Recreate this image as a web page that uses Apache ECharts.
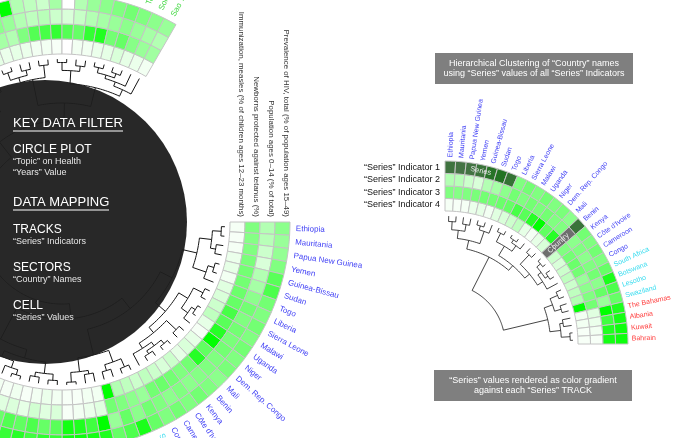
<!DOCTYPE html>
<html><head><meta charset="utf-8">
<script src="https://cdn.jsdelivr.net/npm/echarts@6/dist/echarts.min.js"></script>
<style>html,body{margin:0;padding:0;background:#fff}#c{width:700px;height:438px}</style>
</head><body><div id="c"></div>
<script>
const countries = ["Ethiopia","Mauritania","Papua New Guinea","Yemen","Guinea-Bissau","Sudan","Togo","Liberia","Sierra Leone","Malawi","Uganda","Niger","Dem. Rep. Congo","Mali","Benin","Kenya","Côte d'Ivoire","Cameroon","Congo","South Africa","Botswana","Lesotho","Swaziland","The Bahamas","Albania","Kuwait","Bahrain",
"Qatar","Oman","United Arab Emirates","Saudi Arabia","Malta","Cyprus","Singapore","Brunei Darussalam","Japan","Korea, Rep.","Italy","Spain","Greece","Portugal","Germany","Austria","Switzerland","Belgium","Netherlands","Denmark","Sweden","Norway","Finland","France","United Kingdom","Ireland","Iceland","Canada","United States","Australia","New Zealand","Chile","Uruguay","Argentina","Brazil","Mexico","Colombia","Peru","Ecuador","Panama","Costa Rica","Jamaica","Thailand","Malaysia","Viet Nam","Indonesia","Philippines",
"India","Nepal","Bangladesh","Pakistan","Cambodia","Lao PDR","Myanmar","Afghanistan","Haiti","Bolivia","Guatemala","Honduras","Nicaragua","Tajikistan","Solomon Islands","Sao Tome and Principe"];
const countryGroup = [0,0,0,0,0,0,0,0,0,0,0,0,0,0,0,0,0,0,0,1,1,1,1,2,2,2,2,
3,3,3,3,3,3,3,3,3,3,3,3,3,3,3,3,3,3,3,3,3,3,3,3,3,3,3,3,3,3,3,3,3,3,3,3,3,3,3,3,3,3,3,3,3,3,3,3,
4,4,4,4,4,4,4,4,4,4,4,4,4,4,4,4];
const trackNames = ["Immunization, measles (% of children ages 12–23 months)","Newborns protected against tetanus (%)","Population ages 0–14 (% of total)","Prevalence of HIV, total (% of population ages 15–49)"];
const indicatorLabels = ["“Series” Indicator 1","“Series” Indicator 2","“Series” Indicator 3","“Series” Indicator 4"];
// colour level (0 = white, 100 = full green) per country, one array per track (inner -> outer)
const measles = [4,3,4,8,10,5,12,15,20,25,10,4,10,15,10,20,15,20,25,20,25,30,100,5,5,3,3,
5,8,5,3,6,4,5,
5,3,4,6,8,5,4,3,2,4,5,6,3,2,4,5,3,6,8,4,5,3,4,10,12,8,6,15,10,8,12,6,9,14,7,11,18,9,13,16,
10,8,10,8,5,5,3,0,5,5,8,10,15,10,8,5];
const tetanus = [50,48,50,52,55,55,58,60,72,65,85,100,62,85,55,50,55,58,55,40,45,50,55,12,8,5,3,
15,12,18,10,14,12,16,
10,8,12,15,9,6,7,8,10,5,6,9,8,7,10,12,6,9,11,8,7,10,14,25,30,28,22,35,26,24,30,40,34,45,38,42,50,36,48,55,
30,35,30,50,67,72,80,67,60,80,87,55,60,47,40,37];
const pop014 = [30,28,20,15,30,35,45,55,50,55,52,55,50,50,48,45,50,45,50,55,45,60,40,100,75,88,92,
65,60,70,62,68,58,64,
70,85,92,88,90,86,84,95,93,90,88,87,85,89,91,86,84,80,82,78,75,70,72,55,50,58,52,48,60,56,50,45,62,48,52,46,40,50,44,42,
40,45,40,30,25,28,20,15,22,30,35,40,45,40,35,30];
const hiv = [45,40,42,50,65,70,55,50,55,50,55,50,52,45,50,55,50,55,50,60,90,70,60,88,92,95,95,
80,82,75,85,78,84,76,
80,90,92,88,85,82,86,84,80,88,90,85,82,86,84,80,78,82,75,70,72,68,60,55,50,58,54,60,52,48,56,45,60,50,42,48,40,46,38,44,
50,60,100,30,25,20,35,0,30,40,45,50,55,50,45,40];
const zoomCount = 27;          // countries shown in the right-hand close-up
const seriesHighlight = [0, 6]; // country range highlighted on outer track (right chart)
const countryHighlight = 14;    // country column highlighted (right chart)
// dendrograms: [height, child, child...]; leaf = country index
const leftTree = [0.92,
  [0.75,
    [0.6,
      [0.45,
        [0.28,[0.14,[0.04,0,1],[0.08,2,3]],[0.12,[0.05,4,5],6]],
        [0.3,[0.18,[0.06,7,8],[0.09,[0.04,9,10],11]],[0.22,[0.07,12,13],[0.15,[0.1,[0.05,14,15],[0.06,16,17]],18]]]],
      [0.3,[0.16,[0.06,19,20],[0.09,21,22]],[0.14,[0.1,23,24],[0.03,25,26]]]],
    [0.35,[0.25,[0.12,[0.05,27,28],[0.07,29,30]],[0.18,[0.1,[0.04,31,32],33],[0.11,[0.06,34,35],36]]],[0.15,[0.05,37,38],[0.08,39,40]]]],
  [0.7,
    [0.55,
      [0.38,[0.25,[0.15,[0.05,41,42],[0.07,43,44]],[0.1,[0.04,45,46],47]],[0.22,[0.12,[0.06,48,49],[0.05,50,51]],[0.13,[0.08,52,53],54]]],
      [0.42,[0.33,[0.2,[0.12,[0.04,55,56],[0.06,57,58]],[0.09,[0.05,59,60],61]],[0.24,[0.14,[0.07,62,63],[0.05,64,65]],[0.1,[0.06,66,67],68]]],[0.22,[0.16,[0.05,69,70],[0.08,71,72]],73]]],
    [0.5,[0.2,[0.14,[0.05,74,75],[0.08,76,77]],[0.06,78,79]],[0.28,[0.13,[0.04,80,81],[0.07,82,83]],[0.2,[0.15,[0.11,[0.05,84,85],[0.06,86,87]],88],89]]]]];
const rightTree = [1.0,
  [0.45,
    [0.32,[0.2,[0.08,0,1],[0.1,2,3]],[0.13,[0.07,4,5],6]],
    [0.36,[0.2,[0.06,7,8],[0.1,[0.05,9,10],11]],[0.27,[0.08,12,13],[0.18,[0.12,[0.05,14,15],[0.07,16,17]],18]]]],
  [0.33,[0.2,[0.08,19,20],[0.1,21,22]],[0.17,[0.12,23,24],[0.04,25,26]]]];

const tracks = [measles, tetanus, pop014, hiv];
const groupColors = ['#3f3ff5','#38dcef','#ff4040','#9a6adf','#3fd83f'];
const FONT = '"Liberation Sans", Arial, sans-serif';

function heatData(n){ const d=[]; for(let t=0;t<4;t++) for(let i=0;i<n;i++) d.push([t,i,tracks[t][i]]); return d; }
function treeSegs(node, segs){
  if (typeof node === 'number') return {pos: node + 0.5, h: 0};
  const h = node[0];
  const kids = node.slice(1).map(c => treeSegs(c, segs));
  kids.forEach(k => segs.push([k.h, k.pos, h, k.pos]));
  const a1 = kids[0].pos, a2 = kids[kids.length-1].pos;
  segs.push([h, a1, h, a2]);
  return {pos: (a1 + a2) / 2, h: h};
}
const leftSegs = []; treeSegs(leftTree, leftSegs);
const rightSegs = []; treeSegs(rightTree, rightSegs);

function sectorShape(params, api, t, i, t2, i2){
  const cs = params.coordSys, cx = cs.cx, cy = cs.cy;
  const p00 = api.coord([t, i]), p01 = api.coord([t, i2]), p10 = api.coord([t2, i]);
  const r0 = Math.hypot(p00[0]-cx, p00[1]-cy), r1 = Math.hypot(p10[0]-cx, p10[1]-cy);
  let a0 = Math.atan2(p00[1]-cy, p00[0]-cx), a1 = Math.atan2(p01[1]-cy, p01[0]-cx);
  if (a1 < a0) a1 += Math.PI*2;
  return {cx, cy, r0, r: r1, startAngle: a0, endAngle: a1, clockwise: true};
}
function darken(c, k){ const p = echarts.color.parse(c); return 'rgb('+Math.round(p[0]*k)+','+Math.round(p[1]*k)+','+Math.round(p[2]*k)+')'; }

function heatRender(highlight){
  return function(params, api){
    const t = api.value(0), i = api.value(1);
    let fill = api.visual('color');
    if (highlight) {
      if (t === 3 && (i >= seriesHighlight[0] && i <= seriesHighlight[1] || i === countryHighlight)) fill = darken(fill, 0.45);
      else if (i === countryHighlight) fill = '#6e6e6e';
    }
    return {type:'sector', shape: sectorShape(params, api, t, i, t+1, i+1), style:{fill, stroke:'#c4c4c4', lineWidth:1}};
  };
}
function dendroRender(width){
  return function(params, api){
    const h1 = api.value(0), a1 = api.value(1), h2 = api.value(2), a2 = api.value(3);
    const pts = [];
    if (a1 === a2) { pts.push(api.coord([h1, a1]), api.coord([h2, a2])); }
    else { const n = Math.max(2, Math.ceil(Math.abs(a2-a1)*3)); for (let k=0;k<=n;k++) pts.push(api.coord([h1, a1+(a2-a1)*k/n])); }
    return {type:'polyline', shape:{points: pts}, style:{stroke:'#151515', lineWidth: width, fill: 'none'}};
  };
}
function labelRender(size){
  return function(params, api){
    const i = api.value(2), cs = params.coordSys;
    const p = api.coord([api.value(0), api.value(1)]);
    const a = Math.atan2(p[1]-cs.cy, p[0]-cs.cx);
    return {type:'text', x:p[0], y:p[1], rotation:-a,
      style:{text: countries[i], fill: groupColors[countryGroup[i]], font: size+'px '+FONT, align:'left', verticalAlign:'middle', textAlign:'left', textVerticalAlign:'middle'}};
  };
}
const hideAxis = {axisLine:{show:false}, axisTick:{show:false}, axisLabel:{show:false}, splitLine:{show:false}};
function angleAx(pi, start){ return Object.assign({polarIndex:pi, type:'value', min:0, max:108, startAngle:start, clockwise:true}, hideAxis); }
function radAx(pi, max, inv){ return Object.assign({polarIndex:pi, type:'value', min:0, max:max, inverse:!!inv}, hideAxis); }

const chart = echarts.init(document.getElementById('c'), null, {renderer:'canvas'});
const diskTexts = [
  ['KEY DATA FILTER',13,123,'#fff'],['CIRCLE PLOT',12,150,'#fff'],['“Topic” on Health',9,162,'#e6e6e6'],['“Years” Value',9,173,'#e6e6e6'],
  ['DATA MAPPING',13,202,'#fff'],['TRACKS',12,229.5,'#fff'],['“Series” Indicators',9,242,'#e6e6e6'],
  ['SECTORS',12,267.5,'#fff'],['“Country” Names',9,280,'#e6e6e6'],['CELL',12,306,'#fff'],['“Series” Values',9,318,'#e6e6e6']];
const graphics = [{type:'circle', shape:{cx:45, cy:222, r:142}, style:{fill:'#1f1f1f', opacity:0.96}, z:2}];
diskTexts.forEach(d => graphics.push({type:'text', x:13, y:d[2], z:6, style:{text:d[0], fill:d[3], font:d[1]+'px '+FONT, align:'left', verticalAlign:'middle', textAlign:'left', textVerticalAlign:'middle'}}));
graphics.push({type:'rect', shape:{x:13,y:130.5,width:110,height:1}, style:{fill:'#fff'}, z:6});
graphics.push({type:'rect', shape:{x:13,y:209.5,width:96,height:1}, style:{fill:'#fff'}, z:6});
function grayBox(x,y,w,h,lines){
  graphics.push({type:'rect', shape:{x,y,width:w,height:h}, style:{fill:'#7f7f7f'}, z:6});
  lines.forEach((s,k)=>graphics.push({type:'text', x:x+w/2, y:y+10.5+k*10.5, z:7, style:{text:s, fill:'#fff', font:'9px '+FONT, align:'center', verticalAlign:'middle', textAlign:'center', textVerticalAlign:'middle'}}));
}
grayBox(435,53,198,31,['Hierarchical Clustering of “Country” names','using “Series” values of all “Series” Indicators']);
grayBox(434,370,198,31,['“Series” values rendered as color gradient','against each “Series” TRACK']);

chart.setOption({
  animation:false,
  polar:[{center:[62,222], radius:[168,228]},{center:[445,344], radius:[133,183]},{center:[62,222], radius:[75,163]},{center:[445,344], radius:[60,128]}],
  angleAxis:[angleAx(0,0), angleAx(1,90), angleAx(2,0), angleAx(3,90)],
  radiusAxis:[radAx(0,4), radAx(1,4), radAx(2,1,true), radAx(3,1,true)],
  visualMap:{type:'continuous', show:false, min:0, max:100, dimension:2, seriesIndex:[0,1], inRange:{color:['#ffffff','#00ff00']}},
  graphic:{elements:graphics},
  series:[
    {type:'custom', coordinateSystem:'polar', polarIndex:0, data:heatData(countries.length), renderItem:heatRender(false), z:3},
    {type:'custom', coordinateSystem:'polar', polarIndex:1, data:heatData(zoomCount), renderItem:heatRender(true), z:3},
    {type:'custom', coordinateSystem:'polar', polarIndex:2, data:leftSegs, renderItem:dendroRender(1), z:1},
    {type:'custom', coordinateSystem:'polar', polarIndex:3, data:rightSegs, renderItem:dendroRender(0.8), z:1},
    {type:'custom', coordinateSystem:'polar', polarIndex:0, data:countries.map((c,i)=>[4.4, i+0.5, i]), renderItem:labelRender(8), z:4},
    {type:'custom', coordinateSystem:'polar', polarIndex:1, data:countries.slice(0,zoomCount).map((c,i)=>[4.3, i+0.5, i]), renderItem:labelRender(7), z:4},
    {type:'custom', coordinateSystem:'polar', polarIndex:0, data:trackNames.map((s,t)=>[t+0.5, 0, t]), z:4,
      renderItem:function(params, api){ const p = api.coord([api.value(0), api.value(1)]);
        return {type:'text', x:p[0]+4, y:p[1]-5, rotation:-Math.PI/2, style:{text:trackNames[api.value(2)], fill:'#333', font:'7.9px '+FONT, align:'right', verticalAlign:'middle', textAlign:'right', textVerticalAlign:'middle'}}; }},
    {type:'custom', coordinateSystem:'polar', polarIndex:1, data:indicatorLabels.map((s,t)=>[t+0.5, 0, t]), z:4,
      renderItem:function(params, api){ const p = api.coord([api.value(0), api.value(1)]);
        return {type:'text', x:p[0]-5, y:p[1], style:{text:indicatorLabels[3-api.value(2)], fill:'#111', font:'9px '+FONT, align:'right', verticalAlign:'middle', textAlign:'right', textVerticalAlign:'middle'}}; }},
    {type:'custom', coordinateSystem:'polar', polarIndex:1, data:[[3.5, (seriesHighlight[0]+seriesHighlight[1]+1)/2, 0],[1.5, countryHighlight+0.5, 1]], z:5,
      renderItem:function(params, api){ const cs = params.coordSys; const p = api.coord([api.value(0), api.value(1)]);
        const a = Math.atan2(p[1]-cs.cy, p[0]-cs.cx); const radial = api.value(2) === 1;
        return {type:'text', x:p[0], y:p[1], rotation: radial ? -a : -(a+Math.PI/2),
          style:{text: radial ? 'Country' : 'Series', fill:'#e8e8e8', font:'7.5px '+FONT, align:'center', verticalAlign:'middle', textAlign:'center', textVerticalAlign:'middle'}}; }}
  ]
});
</script></body></html>
